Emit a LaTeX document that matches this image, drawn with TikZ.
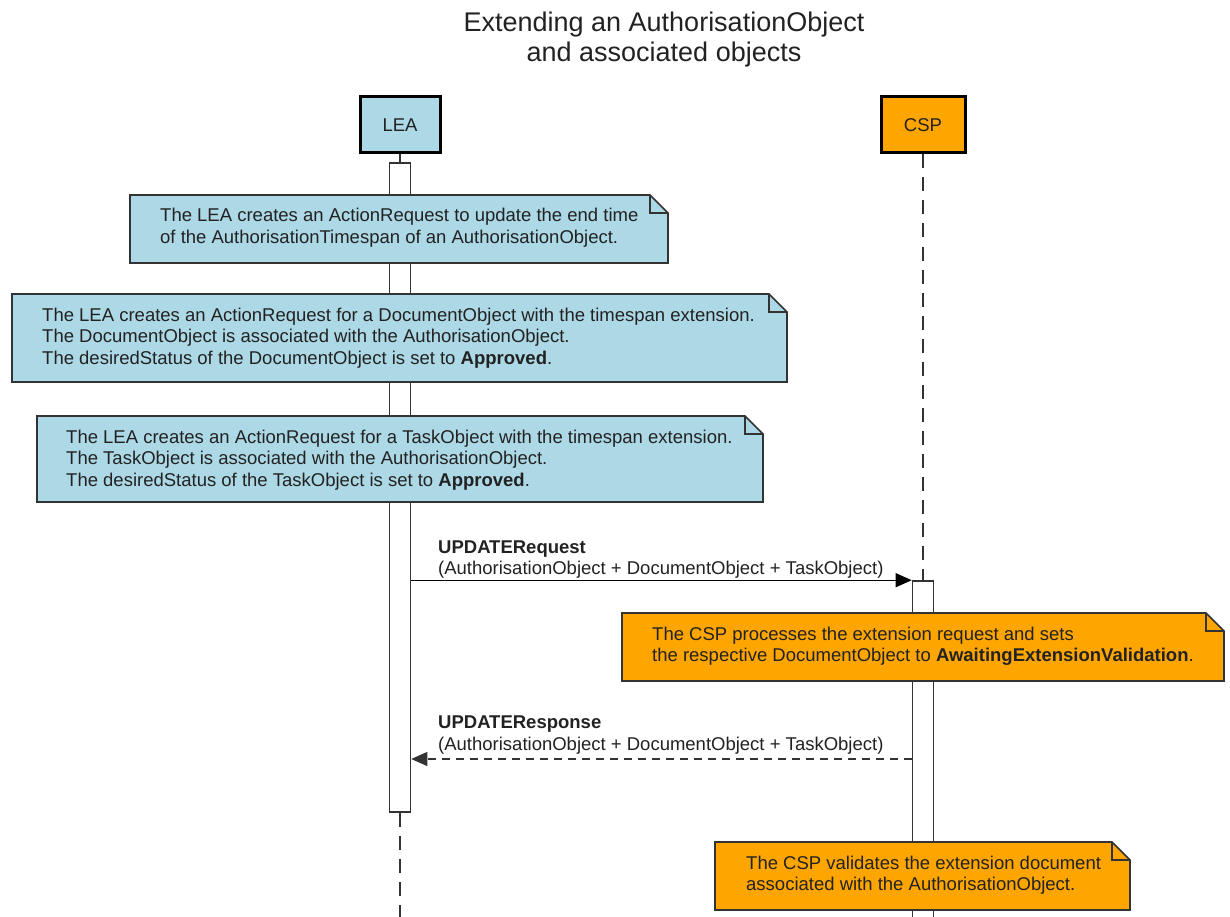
\documentclass[tikz,border=0pt]{standalone}
\usepackage{fontspec}
\setmainfont{Liberation Sans}
\usetikzlibrary{arrows.meta}
\definecolor{leablue}{HTML}{ADD8E6}
\definecolor{csporange}{HTML}{FFA500}
\definecolor{edgecol}{HTML}{333333}
\definecolor{ink}{HTML}{222222}
\newcommand\umlnote[6]{% name, x1, y1, x2, y2, fill
  \draw[notebox, fill=#6] (#2,#3) -- ({#4-18},#3) -- (#4,{#3+18}) -- (#4,#5) -- (#2,#5) -- cycle;
  \draw[notebox] ({#4-18},#3) -- ({#4-18},{#3+18}) -- (#4,{#3+18});
  \coordinate (#1) at (#2,#3);
}
\begin{document}
\begin{tikzpicture}[x=1pt,y=-1pt,
  participant/.style={draw=black, line width=3pt, minimum width=80pt, minimum height=56pt, inner sep=0pt, font=\fontsize{18.5}{21.5}\selectfont, text=ink},
  actbox/.style={draw=edgecol, line width=1.6pt, fill=white, minimum width=21pt, inner sep=0pt},
  lifeline/.style={draw=edgecol, line width=2pt},
  lifedash/.style={lifeline, dash pattern=on 14pt off 9pt},
  notebox/.style={draw=edgecol, line width=1.6pt, line join=miter},
  notetext/.style={anchor=base west, inner sep=0pt, align=left, font=\fontsize{18.5}{21.5}\selectfont, text=ink},
  msg/.style={draw=black, line width=1.3pt, -{Triangle[length=16pt,width=14pt]}},
  msgdash/.style={msg, draw=edgecol, dash pattern=on 8pt off 6pt},
  titletext/.style={anchor=base, inner sep=0pt, font=\fontsize{27}{30}\selectfont, text=ink}
]
\useasboundingbox (0,0) rectangle (1230,917);
\fill[white] (0,0) rectangle (1230,917);

% title
\node[titletext] (title1) at (664,32) {Extending an AuthorisationObject};
\node[titletext] (title2) at (664,62) {and associated objects};

% participants
\node[participant, fill=leablue] (lea) at (400,125) {LEA};
\node[participant, fill=csporange, minimum width=84pt] (csp) at (923,125) {CSP};

% activation boxes
\node[actbox, minimum height=649pt] (leaact) at (400,487.5) {};
\node[actbox, minimum height=345pt] (cspact) at (923,753.5) {};
\coordinate (leaend) at (400,917);

% lifelines
\draw[lifeline] (lea.south) -- (leaact.north);
\draw[lifedash] (leaact.south) -- (leaend);
\draw[lifedash] (csp.south) -- (cspact.north);

% notes
\umlnote{n1}{130}{195}{668}{263}{leablue}
\node[notetext] (t1) at (160,222) {The LEA creates an ActionRequest to update the end time};
\node[notetext] (t1b) at (160,243.5) {of the AuthorisationTimespan of an AuthorisationObject.};

\umlnote{n2}{12}{294}{787}{382}{leablue}
\node[notetext] (t2) at (42,321) {The LEA creates an ActionRequest for a DocumentObject with the timespan extension.};
\node[notetext] (t2b) at (42,342.5) {The DocumentObject is associated with the AuthorisationObject.};
\node[notetext] (t2c) at (42,364) {The desiredStatus of the DocumentObject is set to \textbf{Approved}.};

\umlnote{n3}{37}{416}{763}{502}{leablue}
\node[notetext] (t3) at (66,443) {The LEA creates an ActionRequest for a TaskObject with the timespan extension.};
\node[notetext] (t3b) at (66,464.5) {The TaskObject is associated with the AuthorisationObject.};
\node[notetext] (t3c) at (66,486) {The desiredStatus of the TaskObject is set to \textbf{Approved}.};

% request
\draw[msg] (leaact.east |- cspact.north west) -- (cspact.north west);
\node[notetext] (req1) at (438,553) {\textbf{UPDATERequest}};
\node[notetext] (req2) at (438,574) {(AuthorisationObject + DocumentObject + TaskObject)};

\umlnote{n4}{622}{613}{1224}{681}{csporange}
\node[notetext] (t4) at (652,640) {The CSP processes the extension request and sets};
\node[notetext] (t4b) at (652,661.5) {the respective DocumentObject to \textbf{AwaitingExtensionValidation}.};

% response
\coordinate (respy) at (0,759);
\draw[msgdash] (cspact.west |- respy) -- (leaact.east |- respy);
\node[notetext] (resp1) at (438,728) {\textbf{UPDATEResponse}};
\node[notetext] (resp2) at (438,750) {(AuthorisationObject + DocumentObject + TaskObject)};

\umlnote{n5}{715}{842}{1130}{910}{csporange}
\node[notetext] (t5) at (746,869) {The CSP validates the extension document};
\node[notetext] (t5b) at (746,890.5) {associated with the AuthorisationObject.};
\end{tikzpicture}
\end{document}
